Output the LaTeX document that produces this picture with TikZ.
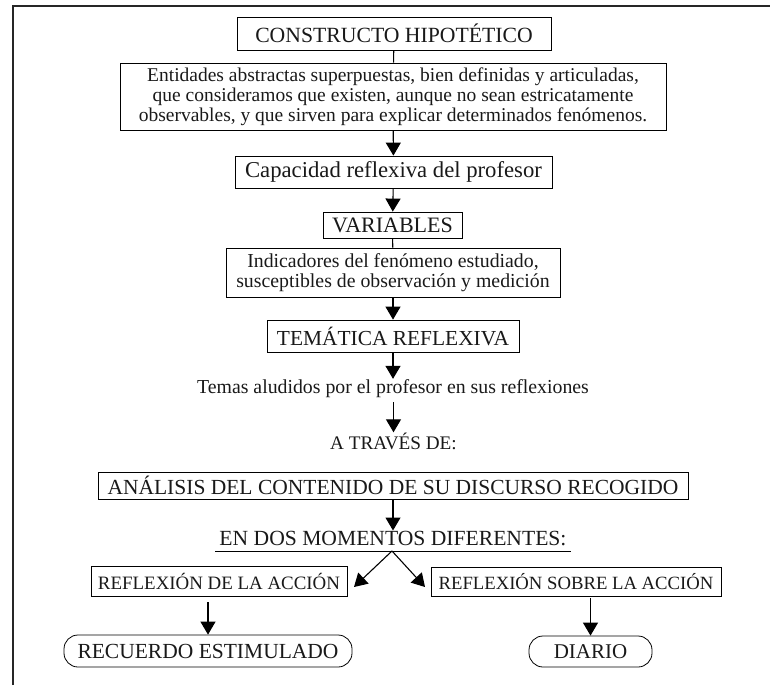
\documentclass[tikz,border=0pt]{standalone}
\usepackage{fontspec}
\setmainfont{Liberation Serif}
\usetikzlibrary{arrows.meta,calc}
\newcommand{\fsz}[1]{\fontsize{#1}{1.2\dimexpr #1pt\relax}\selectfont}
\tikzset{
  frame/.style={line width=2.4pt, draw=black!85},
  box/.style={draw, line width=0.8pt, inner sep=0pt, align=center, text=black!90},
  pill/.style={draw, line width=0.8pt, inner sep=0pt, rounded corners=14pt, align=center, text=black!90},
  plain/.style={inner sep=0pt, align=center, text=black!90},
  link/.style={line width=1.1pt},
  arr/.style={line width=1.1pt, -{Triangle[length=13pt,width=15pt]}},
}
\begin{document}
\begin{tikzpicture}[x=1pt,y=-1pt]
\useasboundingbox (0,0) rectangle (770,685);
\draw[frame] (13,685) -- (13,6) -- (770,6);

\node[box, minimum width=314pt, minimum height=33pt, font=\fsz{21.7}] (c1) at (394,33.5) {CONSTRUCTO HIPOTÉTICO};
\node[box, minimum width=546pt, minimum height=67pt, font={\fontsize{19.5}{20}\selectfont}] (c2) at (393,96.5)
  {Entidades abstractas superpuestas, bien definidas y articuladas,\\
   que consideramos que existen, aunque no sean estricatamente\\
   observables, y que sirven para explicar determinados fenómenos.};
\node[box, minimum width=317pt, minimum height=32pt, font=\fsz{22.7}] (c3) at (393.5,172) {Capacidad reflexiva del profesor};
\node[box, minimum width=139pt, minimum height=26pt, font=\fsz{22}] (c4) at (392.5,225) {VARIABLES};
\node[box, minimum width=334pt, minimum height=49pt, font={\fontsize{19.8}{20}\selectfont}] (c5) at (393,272.5)
  {Indicadores del fenómeno estudiado,\\ susceptibles de observación y medición};
\node[box, minimum width=252pt, minimum height=32pt, font=\fsz{21.4}] (c6) at (393,336) {TEMÁTICA REFLEXIVA};
\node[plain, anchor=base, font=\fsz{19.8}] (t1) at (393,393) {Temas aludidos por el profesor en sus reflexiones};
\node[plain, anchor=base, font=\fsz{19.2}] (t2) at (393.5,449) {A TRAVÉS DE:};
\node[box, minimum width=590pt, minimum height=27pt, font=\fsz{21.5}] (c7) at (393,485.5) {ANÁLISIS DEL CONTENIDO DE SU DISCURSO RECOGIDO};
\node[plain, anchor=base, font=\fsz{21.6}] (t3) at (393,545) {EN DOS MOMENTOS DIFERENTES:};
\coordinate (ulL) at (215,551);
\coordinate (ulR) at (571,551);
\coordinate (apex) at (392,551);
\coordinate (tipL) at (354,587);
\coordinate (tipR) at (425,587);
\node[box, minimum width=256pt, minimum height=30pt, font=\fsz{18.9}] (c8) at (219,581) {REFLEXIÓN DE LA ACCIÓN};
\node[box, minimum width=290pt, minimum height=29pt, font=\fsz{18.7}] (c9) at (576,581.5) {REFLEXIÓN SOBRE LA ACCIÓN};
\node[pill, minimum width=288pt, minimum height=32pt, font=\fsz{21.5}] (r1) at (208,651) {RECUERDO ESTIMULADO};
\node[pill, minimum width=123pt, minimum height=31pt, font=\fsz{21}] (r2) at (590.5,651.5) {DIARIO};

\draw[link] (c1) -- (c2);
\draw[arr] (c2) -- (c3);
\draw[arr] (c3) -- (c4);
\draw[link] (c4) -- (c5);
\draw[arr] (c5) -- (c6);
\draw[arr] (c6.south) -- (c6.south |- t1.north);
\draw[arr, shorten <=5pt] (t1.south -| t2.north) -- (t2.north);
\draw[arr] (c7.south) -- (c7.south |- t3.north);
\draw[line width=0.8pt] (ulL) -- (ulR);
\draw[arr] (apex) -- (tipL);
\draw[arr] (apex) -- (tipR);
\draw[arr, shorten <=6pt] (r1.north |- c8.south) -- (r1.north);
\draw[arr, shorten <=2pt] (r2.north |- c9.south) -- (r2.north);
\end{tikzpicture}
\end{document}
